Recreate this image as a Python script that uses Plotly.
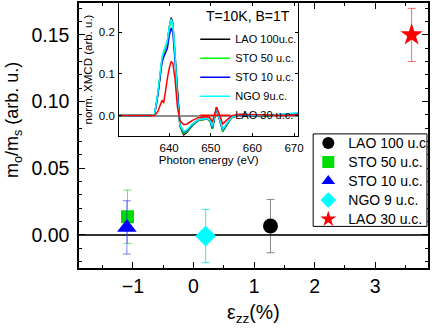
import plotly.graph_objects as go

# ---- main panel data ----
samples = ["LAO 100 u.c.", "STO 50 u.c.", "STO 10 u.c.", "NGO 9 u.c.", "LAO 30 u.c."]
strain = [1.27, -1.09, -1.10, 0.20, 3.60]
strain_err = [0.07, 0.07, 0.07, 0.07, 0.07]
ratio = [0.0065, 0.0135, 0.0055, -0.001, 0.150]
ratio_err = [0.020, 0.020, 0.020, 0.020, 0.020]

# ---- inset spectra data ----
energy = [628, 635.5, 636.5, 637.3, 638.0, 638.3, 638.7, 639.1, 639.6, 640.0, 640.5, 640.9,
          641.4, 642.0, 642.6, 643.5, 644.3, 645.5, 647, 649, 649.8, 650.4, 650.9, 651.4,
          652.0, 652.9, 653.7, 655, 657, 660, 664, 668, 671]
xmcd_lao100 = [0, 0, 0.002, 0.05, 0.11, 0.135, 0.15, 0.162, 0.178, 0.21, 0.235, 0.222,
               0.15, 0.04, -0.025, -0.046, -0.04, -0.025, -0.012, -0.008, -0.012, -0.032, -0.006, 0.02,
               -0.005, -0.038, -0.025, -0.005, 0.002, 0.0, 0.0, 0.002, 0.005]
xmcd_sto50 = [0, 0, 0.002, 0.05, 0.11, 0.135, 0.15, 0.162, 0.178, 0.208, 0.228, 0.215,
              0.145, 0.038, -0.024, -0.043, -0.038, -0.024, -0.011, -0.008, -0.012, -0.031, -0.006, 0.019,
              -0.005, -0.037, -0.024, -0.005, 0.002, 0.0, 0.0, 0.002, 0.005]
xmcd_sto10 = [0, 0, 0.002, 0.05, 0.105, 0.128, 0.14, 0.15, 0.162, 0.19, 0.21, 0.2,
              0.135, 0.035, -0.022, -0.04, -0.036, -0.022, -0.01, -0.007, -0.011, -0.028, -0.005, 0.018,
              -0.005, -0.034, -0.022, -0.004, 0.002, 0.0, 0.0, 0.002, 0.005]
xmcd_ngo9 = [0, 0, 0.003, 0.055, 0.115, 0.14, 0.155, 0.165, 0.18, 0.21, 0.232, 0.218,
             0.15, 0.04, -0.022, -0.038, -0.034, -0.021, -0.01, -0.007, -0.01, -0.026, -0.004, 0.02,
             -0.004, -0.033, -0.021, -0.004, 0.003, 0.001, 0.001, 0.004, 0.007]
xmcd_lao30 = [0, 0, 0.0, 0.01, 0.03, 0.037, 0.03, 0.062, 0.09, 0.112, 0.13, 0.125,
              0.09, 0.02, -0.012, -0.022, -0.02, -0.012, -0.005, -0.003, -0.005, -0.015, 0.0, 0.02,
              0.005, -0.02, -0.012, 0.0, 0.003, 0.002, 0.0, 0.0, 0.002]
spectra_labels = ["LAO 100u.c.", "STO 50 u.c.", "STO 10 u.c.", "NGO 9u.c.", "LAO 30 u.c."]

FONT = "Liberation Sans, Arial, sans-serif"

marker_colors = ["#000000", "#00dd00", "#0000ff", "#00ffff", "#ff0000"]
err_colors = ["rgba(0,0,0,0.45)", "rgba(0,200,0,0.55)", "rgba(0,0,255,0.5)",
              "rgba(0,220,220,0.75)", "rgba(255,0,0,0.6)"]
symbols = ["circle", "square", "triangle-up", "diamond", "star"]
sizes = [15, 13, 17, 16, 17]

fig = go.Figure()

for i in range(len(samples)):
    fig.add_trace(go.Scatter(
        x=[strain[i]], y=[ratio[i]], mode="markers",
        name="<span style='font-size:14px'>" + samples[i] + "</span>",
        marker=dict(symbol=symbols[i], color=marker_colors[i], size=sizes[i],
                    line=dict(width=0)),
        error_y=dict(type="data", array=[ratio_err[i]], color=err_colors[i],
                     thickness=1, width=4),
        error_x=dict(type="data", array=[strain_err[i]], color="rgba(40,40,40,0.7)",
                     thickness=1, width=2),
        xaxis="x", yaxis="y", legend="legend",
    ))

spec_colors = ["#000000", "#00ff00", "#0000ff", "#00ffff", "#ff0000"]
spectra = [xmcd_lao100, xmcd_sto50, xmcd_sto10, xmcd_ngo9, xmcd_lao30]
for lab, col, ys in zip(spectra_labels, spec_colors, spectra):
    fig.add_trace(go.Scatter(
        x=energy, y=ys, mode="lines",
        name="<span style='font-size:11px'>" + lab + "</span>",
        line=dict(color=col, width=1.5),
        xaxis="x2", yaxis="y2", legend="legend2",
    ))

axis_common = dict(showline=True, linecolor="black", mirror="ticks", showgrid=False,
                   ticks="inside", tickcolor="black")

fig.update_layout(
    width=436, height=328,
    margin=dict(l=79, r=4, t=1, b=60),
    paper_bgcolor="white", plot_bgcolor="white",
    font=dict(family=FONT, color="black", size=19.5),
    xaxis=dict(domain=[0, 1], range=[-1.89, 3.87], tickvals=[-1, 0, 1, 2, 3],
               ticklen=6, linewidth=1.5, tickwidth=1.2, zeroline=False,
               minor=dict(dtick=0.5, tick0=0, ticks="inside", ticklen=3.5, tickcolor="black"),
               tickfont=dict(size=19.5), ticklabelstandoff=0, **axis_common),
    yaxis=dict(domain=[0, 1], range=[-0.025, 0.174], tickvals=[0, 0.05, 0.10, 0.15],
               tickformat=".2f", ticklen=6, linewidth=1.5, tickwidth=1.2,
               zeroline=True, zerolinecolor="#333333", zerolinewidth=1.5,
               minor=dict(dtick=0.01, tick0=0, ticks="inside", ticklen=3.5, tickcolor="black"),
               tickfont=dict(size=19.5), ticklabelstandoff=4, **axis_common),
    xaxis2=dict(domain=[0.115, 0.628], anchor="y2", range=[628, 671],
                tickvals=[640, 650, 660, 670], ticklen=3, linewidth=1, zeroline=False,
                tickfont=dict(size=11.5), ticklabelstandoff=1,
                title=dict(text="Photon energy (eV)", font=dict(size=11.5), standoff=1),
                **axis_common),
    yaxis2=dict(domain=[0.498, 1.0], anchor="x2", range=[-0.049, 0.27],
                tickvals=[0, 0.1, 0.2], tickformat=".1f", ticklen=3, linewidth=1,
                zeroline=True, zerolinecolor="#8c8c8c", zerolinewidth=2,
                tickfont=dict(size=11.5), ticklabelstandoff=1,
                title=dict(text="norm. XMCD (arb. u.)", font=dict(size=11.5), standoff=3),
                **axis_common),
    legend=dict(x=0.657, y=0.526, xanchor="left", yanchor="top",
                borderwidth=0, bgcolor="rgba(0,0,0,0)",
                font=dict(size=12.3), tracegroupgap=0, itemsizing="constant"),
    legend2=dict(x=0.333, y=0.918, xanchor="left", yanchor="top",
                 bgcolor="rgba(0,0,0,0)", borderwidth=0,
                 font=dict(size=9.0), tracegroupgap=0),
    showlegend=True,
    shapes=[
        dict(type="rect", xref="paper", yref="paper", x0=0.671, x1=0.997, y0=0.157, y1=0.506,
             line=dict(color="black", width=1), fillcolor="white", layer="above"),
    ],
    annotations=[
        dict(text="m<sub>o</sub>/m<sub>s</sub> (arb. u.)", xref="paper", yref="paper",
             x=-0.188, y=0.56, textangle=-90, showarrow=False,
             font=dict(size=18), xanchor="center", yanchor="middle"),
        dict(text="ε<sub>zz</sub>(%)", xref="paper", yref="paper",
             x=0.5, y=-0.17, showarrow=False, font=dict(size=19.5),
             xanchor="center", yanchor="middle"),
        dict(text="T=10K, B=1T", xref="paper", yref="paper",
             x=0.485, y=0.95, showarrow=False, font=dict(size=14),
             xanchor="center", yanchor="middle"),
    ],
)

fig.write_html("out.html", config={"displayModeBar": False},
               post_script="document.body.style.margin='0';document.body.style.overflow='hidden';")
